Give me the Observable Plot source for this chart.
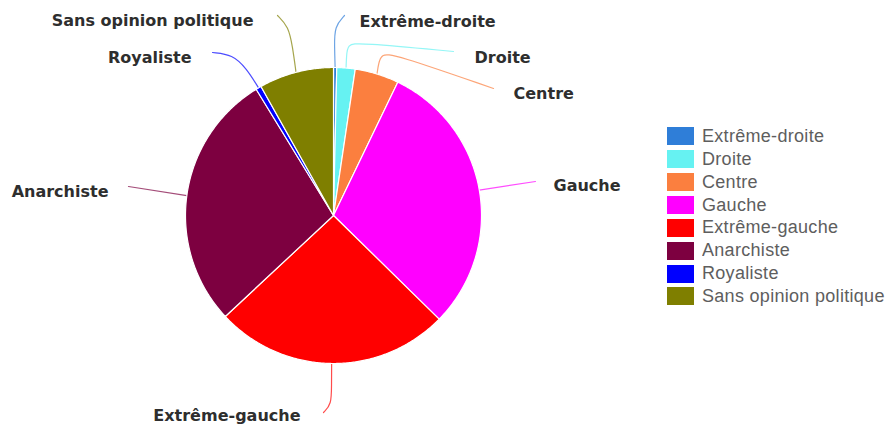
<!DOCTYPE html>
<html>
<head>
<meta charset="utf-8">
<script src="https://cdn.jsdelivr.net/npm/d3@7"></script>
<script src="https://cdn.jsdelivr.net/npm/@observablehq/plot@0.6"></script>
<style>
html, body { margin: 0; padding: 0; background: #fff; }
#wrap { position: relative; width: 888px; height: 428px; overflow: hidden; }
#legend { position: absolute; left: 667px; top: 125px; }
.lg-swatches { font-family: "Liberation Sans", Arial, sans-serif !important; font-size: 18px !important; letter-spacing: 0.3px; color: #5e5e5e; margin: 0 !important; }
.lg-swatch { padding-bottom: 0 !important; height: 22.86px; }
.lg-swatch > svg { margin-right: 8px !important; }
.lg-swatch-label { line-height: 22.86px; }
</style>
</head>
<body>
<div id="wrap"><div id="chart"></div><div id="legend"></div></div>
<script>
// ---- data ----
const categories = ["Extrême-droite", "Droite", "Centre", "Gauche", "Extrême-gauche", "Anarchiste", "Royaliste", "Sans opinion politique"];
const values = [0.35, 2.0, 4.8, 30.2, 25.7, 28.2, 0.6, 8.15];
const colors = ["#2f7ed8", "#66f2f2", "#fb7f3f", "#ff00ff", "#ff0000", "#7d0040", "#0000ff", "#7f7f00"];

// ---- layout (pixel space) ----
const W = 888, H = 428;
const CX = 333, CY = 215, R = 148;
const labelLayout = {
  "Extrême-droite":         {anchor: "start", x: 359, y: 21,  path: [[344, 15], [334, 26], [334, 46]]},
  "Droite":                 {anchor: "start", x: 474, y: 57,  path: [[453, 51], [358, 42], [347, 44], [346, 56]]},
  "Centre":                 {anchor: "start", x: 513, y: 93,  path: [[493, 88], [392, 53], [381, 54], [378, 63]]},
  "Gauche":                 {anchor: "start", x: 553, y: 185, path: [[535, 181]]},
  "Extrême-gauche":         {anchor: "end",   x: 300, y: 415, path: [[323, 412], [331, 404], [331, 384]]},
  "Anarchiste":             {anchor: "end",   x: 108, y: 191, path: [[128, 186]]},
  "Royaliste":              {anchor: "end",   x: 191, y: 57,  path: [[212, 52], [232, 54], [246, 68]]},
  "Sans opinion politique": {anchor: "end",   x: 253, y: 20,  path: [[277, 15], [288, 26], [292, 46]]}
};

// ---- geometry from data ----
const arcs = d3.pie().sort(null).value(d => d)(values);
const slicePts = [];
const connPts = [];
arcs.forEach((a, i) => {
  const name = categories[i];
  slicePts.push({name, x: CX, y: CY});
  const n = Math.max(2, Math.ceil((a.endAngle - a.startAngle) / (Math.PI / 360)));
  for (let k = 0; k <= n; k++) {
    const t = a.startAngle + (a.endAngle - a.startAngle) * k / n;
    slicePts.push({name, x: CX + R * Math.sin(t), y: CY - R * Math.cos(t)});
  }
  slicePts.push({name, x: CX, y: CY});
  const mid = (a.startAngle + a.endAngle) / 2;
  const L = labelLayout[name];
  L.path.forEach(([x, y]) => connPts.push({name, x, y}));
  connPts.push({name, x: CX + R * Math.sin(mid), y: CY - R * Math.cos(mid)});
});

const labelFont = {fontFamily: "'DejaVu Sans', Verdana, sans-serif", fontSize: 16, fontWeight: "bold", fill: "#2e2e2e"};

const chart = Plot.plot({
  width: W, height: H,
  margin: 0,
  x: {domain: [0, W], range: [0, W], axis: null},
  y: {domain: [0, H], range: [0, H], axis: null},
  color: {type: "ordinal", domain: categories, range: colors},
  marks: [
    Plot.line(connPts, {x: "x", y: "y", z: "name", stroke: "name", strokeWidth: 1.2, strokeOpacity: 0.7, curve: "basis"}),
    Plot.line(slicePts, {x: "x", y: "y", z: "name", fill: "name", stroke: "#ffffff", strokeWidth: 1.2, strokeLinejoin: "round", curve: "linear"}),
    Plot.text(categories.filter(c => labelLayout[c].anchor === "start"), {
      x: c => labelLayout[c].x, y: c => labelLayout[c].y, text: c => c, textAnchor: "start", ...labelFont
    }),
    Plot.text(categories.filter(c => labelLayout[c].anchor === "end"), {
      x: c => labelLayout[c].x, y: c => labelLayout[c].y, text: c => c, textAnchor: "end", ...labelFont
    })
  ]
});
document.getElementById("chart").appendChild(chart);

const legend = Plot.legend({
  color: {type: "ordinal", domain: categories, range: colors},
  columns: 1,
  swatchWidth: 27,
  swatchHeight: 18,
  className: "lg"
});
document.getElementById("legend").appendChild(legend);
</script>
</body>
</html>
